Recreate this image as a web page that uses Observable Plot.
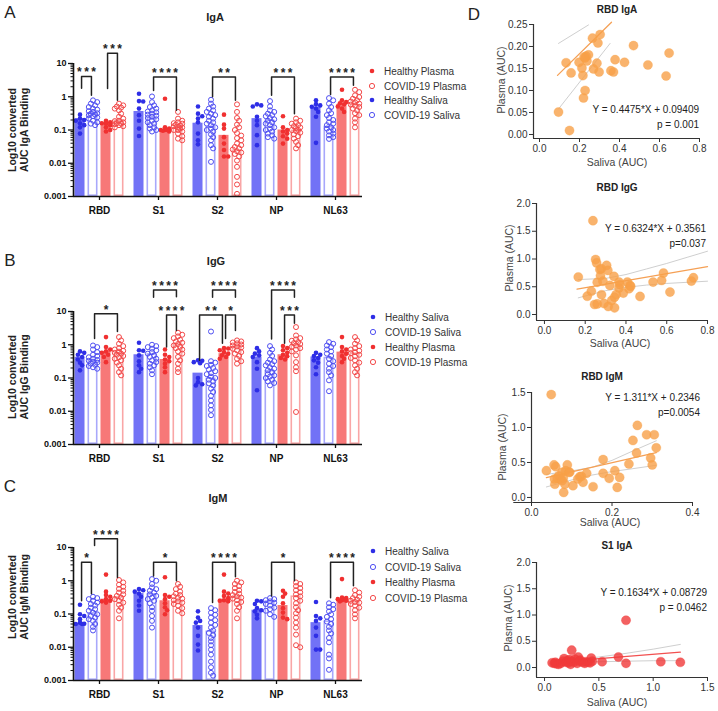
<!DOCTYPE html>
<html><head><meta charset="utf-8">
<script src="https://cdn.jsdelivr.net/npm/d3@7"></script>
<script src="https://cdn.jsdelivr.net/npm/@observablehq/plot@0.6"></script>
<style>
body{margin:0;background:#fff;font-family:"Liberation Sans",Arial,sans-serif;}
#root{position:relative;width:718px;height:711px;overflow:hidden;background:#fff;}
#root svg{position:absolute;overflow:visible;}
</style></head><body><div id="root"></div><script>
// ---------- DATA ----------
const categories = ["RBD","S1","S2","NP","NL63"];
const groupNames = ["Healthy Saliva","COVID-19 Saliva","Healthy Plasma","COVID-19 Plasma"];
const logTicks = [0.001,0.01,0.1,1,10];

// bar heights: rows = HS, CS, HP, CP ; columns = categories
const igaBars = [[0.22,0.36,0.16,0.22,0.49],[0.33,0.24,0.13,0.2,0.13],[0.17,0.1,0.069,0.1,0.59],[0.2,0.12,0.025,0.1,0.59]];
const iggBars = [[0.42,0.5,0.14,0.43,0.43],[0.34,0.54,0.1,0.17,0.42],[0.63,0.36,0.54,0.5,0.6],[0.57,1.07,0.9,1.0,0.57]];
const igmBars = [[0.051,0.41,0.045,0.13,0.055],[0.11,0.41,0.031,0.25,0.062],[0.28,0.25,0.28,0.18,0.28],[0.33,0.25,0.35,0.35,0.25]];

// IgA individual values per category
const igaHS = [[0.29,0.22,0.2,0.19,0.16,0.14,0.12,0.078],[1.23,0.74,0.72,0.44,0.28,0.19,0.11,0.066],[0.51,0.31,0.26,0.22,0.17,0.078,0.049,0.037],[0.59,0.55,0.51,0.25,0.19,0.14,0.07,0.035],[0.78,0.6,0.55,0.5,0.44,0.35,0.25,0.041]];
const igaCS = [[0.78,0.69,0.62,0.55,0.49,0.44,0.41,0.37,0.35,0.32,0.31,0.29,0.28,0.26,0.24,0.22,0.19,0.17,0.155,0.14],
 [1.02,0.69,0.55,0.49,0.44,0.39,0.36,0.34,0.31,0.29,0.27,0.25,0.23,0.21,0.19,0.17,0.155,0.14,0.12,0.11,0.1,0.09],
 [0.81,0.62,0.51,0.44,0.39,0.35,0.31,0.28,0.25,0.22,0.19,0.17,0.155,0.14,0.12,0.11,0.1,0.09,0.074,0.061,0.049,0.035,0.028,0.011],
 [0.74,0.51,0.39,0.35,0.31,0.28,0.26,0.23,0.21,0.19,0.17,0.155,0.14,0.12,0.11,0.1,0.09,0.078,0.069,0.061,0.055],
 [0.91,0.78,0.62,0.49,0.39,0.32,0.28,0.23,0.2,0.17,0.155,0.14,0.12,0.11,0.1,0.09,0.078,0.069,0.061,0.054]];
const igaHP = [[0.19,0.17,0.16,0.155,0.14,0.12,0.1,0.09],[0.87,0.12,0.11,0.1,0.1,0.095,0.09,0.1],[0.29,0.145,0.11,0.061,0.039,0.025,0.016,0.016],[0.26,0.12,0.1,0.09,0.078,0.065,0.055,0.039],[1.62,0.78,0.69,0.64,0.59,0.51,0.44,0.35]];
const igaCP = [[0.62,0.55,0.51,0.47,0.44,0.39,0.31,0.25,0.22,0.19,0.185,0.17,0.16,0.155,0.15,0.14,0.13,0.12],
 [0.35,0.22,0.19,0.17,0.16,0.155,0.145,0.135,0.13,0.12,0.12,0.11,0.1,0.1,0.09,0.078,0.065,0.055,0.049],
 [0.59,0.35,0.23,0.19,0.145,0.12,0.1,0.081,0.068,0.057,0.049,0.039,0.035,0.031,0.028,0.026,0.023,0.021,0.019,0.016,0.012,0.0078,0.0039,0.0023,0.0012],
 [0.22,0.19,0.17,0.155,0.14,0.13,0.12,0.115,0.1,0.1,0.093,0.083,0.074,0.065,0.055,0.044,0.035,0.028],
 [1.62,1.38,1.1,0.98,0.87,0.78,0.72,0.68,0.62,0.58,0.54,0.49,0.44,0.39,0.32,0.28,0.22,0.17,0.12]];

// IgG individual values
const iggHS = [[0.63,0.57,0.5,0.43,0.36,0.29,0.24,0.17],[1.15,0.68,0.66,0.48,0.32,0.24,0.19,0.15],[0.34,0.33,0.3,0.28,0.1,0.075,0.065,0.06],[0.79,0.63,0.54,0.48,0.43,0.3,0.19,0.043],[0.57,0.5,0.46,0.4,0.34,0.29,0.21,0.13]];
const iggCS = [[0.95,0.85,0.72,0.6,0.5,0.46,0.42,0.38,0.35,0.33,0.31,0.29,0.27,0.25,0.23,0.21,0.19],
 [1.0,0.91,0.85,0.76,0.68,0.6,0.54,0.48,0.43,0.38,0.34,0.3,0.27,0.24,0.21,0.17,0.13],
 [2.5,0.32,0.29,0.25,0.23,0.2,0.18,0.16,0.14,0.13,0.11,0.1,0.089,0.079,0.069,0.06,0.048,0.038,0.029,0.021,0.015,0.011,0.0076],
 [0.91,0.72,0.57,0.46,0.36,0.32,0.29,0.26,0.24,0.21,0.19,0.17,0.15,0.13,0.12,0.11,0.1,0.089,0.079,0.071,0.06],
 [1.2,1.07,0.95,0.85,0.72,0.63,0.54,0.46,0.38,0.32,0.27,0.23,0.19,0.15,0.12,0.085,0.04]];
const iggHP = [[1.7,0.85,0.72,0.63,0.57,0.5,0.43,0.3],[0.72,0.5,0.43,0.36,0.32,0.27,0.21,0.15],[0.79,0.77,0.68,0.6,0.54,0.48,0.43,0.38],[0.91,0.79,0.68,0.57,0.5,0.45,0.4,0.36],[1.7,0.85,0.72,0.63,0.54,0.46,0.38,0.3]];
const iggCP = [[1.7,1.35,1.07,0.91,0.79,0.72,0.66,0.62,0.57,0.54,0.5,0.46,0.42,0.38,0.34,0.29,0.24,0.19,0.15,0.12],
 [2.3,2.0,1.78,1.58,1.41,1.26,1.15,1.05,0.95,0.87,0.79,0.72,0.63,0.54,0.43,0.34,0.27,0.19,0.15],
 [1.35,1.26,1.17,1.1,1.02,0.95,0.89,0.83,0.76,0.68,0.6,0.54,0.46,0.38,0.32,0.27],
 [3.4,1.9,1.58,1.45,1.32,1.2,1.12,1.05,0.95,0.87,0.79,0.72,0.63,0.48,0.3,0.21,0.16,0.0095],
 [1.7,1.35,1.07,0.91,0.79,0.72,0.66,0.6,0.56,0.5,0.45,0.4,0.34,0.29,0.24,0.19,0.15,0.12]];

// IgM individual values
const igmHS = [[0.19,0.098,0.087,0.07,0.055,0.051,0.05,0.05],[0.56,0.52,0.47,0.41,0.33,0.25,0.18,0.125],[0.12,0.078,0.062,0.055,0.039,0.022,0.012,0.008],[0.25,0.24,0.2,0.15,0.13,0.12,0.095,0.074],[0.23,0.087,0.074,0.062,0.039,0.022,0.0085,0.0085]];
const igmCS = [[0.33,0.3,0.28,0.25,0.22,0.2,0.18,0.155,0.14,0.125,0.11,0.098,0.087,0.078,0.07,0.062,0.05,0.041,0.032],
 [1.12,1.0,0.8,0.63,0.56,0.5,0.44,0.39,0.35,0.31,0.28,0.25,0.21,0.16,0.125,0.087,0.062,0.039],
 [0.15,0.13,0.11,0.095,0.078,0.065,0.055,0.047,0.039,0.032,0.027,0.023,0.019,0.015,0.0115,0.0085,0.006,0.0037,0.0025,0.0017,0.0014],
 [0.3,0.28,0.26,0.24,0.22,0.2,0.18,0.155,0.14,0.125,0.098,0.082],
 [0.21,0.19,0.16,0.14,0.12,0.098,0.082,0.07,0.059,0.05,0.041,0.032,0.026,0.019,0.014,0.006,0.0046,0.0021]];
const igmHP = [[1.53,0.47,0.37,0.33,0.28,0.25,0.24,0.22],[1.27,0.37,0.33,0.28,0.21,0.16,0.13,0.098],[1.53,0.47,0.41,0.35,0.3,0.26,0.25,0.24],[0.5,0.41,0.33,0.21,0.15,0.11,0.078,0.07],[1.12,0.31,0.3,0.28,0.28,0.26,0.25,0.24]];
const igmCP = [[1.05,0.89,0.76,0.66,0.57,0.5,0.44,0.39,0.35,0.31,0.28,0.25,0.22,0.19,0.155,0.125,0.074],
 [0.8,0.66,0.56,0.47,0.41,0.37,0.34,0.31,0.29,0.26,0.24,0.22,0.2,0.18,0.15,0.125,0.105],
 [1.0,0.89,0.8,0.69,0.6,0.52,0.46,0.41,0.37,0.34,0.31,0.29,0.26,0.23,0.2,0.16,0.125,0.074],
 [0.89,0.8,0.69,0.6,0.52,0.45,0.39,0.34,0.3,0.25,0.21,0.16,0.13,0.105,0.078,0.055,0.039,0.024,0.0115,0.01],
 [0.52,0.44,0.37,0.33,0.3,0.27,0.25,0.23,0.22,0.2,0.18,0.155,0.13,0.098,0.074]];

// significance brackets: [category, group A, group B, bracket top, left leg end, right leg end, label]
const igaSig = [["RBD",0,1,4.07,1.8,1.1,"***"],["RBD",2,3,20.4,1.78,0.78,"***"],["S1",1,3,3.9,1.55,0.39,"****"],["S2",1,3,3.9,1.0,0.78,"**"],["NP",1,3,3.9,1.1,0.31,"***"],["NL63",1,3,3.9,1.17,2.2,"****"]];
const iggSig = [["RBD",1,3,8.5,1.55,2.5,"*"],["S1",1,3,44.7,27,28,"****"],["S1",2,3,7.9,0.85,2.7,"****"],["S2",0,2,7.9,0.34,1.1,"**"],["S2",2,3,7.9,1.55,2.7,"*"],["S2",1,3,44.7,27,27,"****"],["NP",1,3,44.7,1.5,27,"****"],["NP",2,3,7.9,1.1,4.4,"***"]];
const igmSig = [["RBD",0,1,3.6,0.25,0.41,"*"],["RBD",1,3,18.3,11.5,1.26,"****"],["S1",1,3,3.6,1.4,1.0,"*"],["S2",1,3,3.6,0.22,1.32,"****"],["NP",1,3,3.6,0.35,1.0,"*"],["NL63",1,3,3.6,0.31,0.71,"****"]];

// scatter data (panel D)
const rbdIgaSaliva = [0.095,0.15,0.133,0.158,0.198,0.212,0.217,0.22,0.228,0.228,0.233,0.237,0.245,0.265,0.27,0.287,0.292,0.298,0.303,0.357,0.37,0.378,0.425,0.47,0.542,0.633,0.648,0.223];
const rbdIgaPlasma = [0.051,0.009,0.163,0.14,0.164,0.151,0.134,0.083,0.1,0.174,0.178,0.167,0.181,0.219,0.149,0.162,0.208,0.142,0.227,0.145,0.142,0.17,0.164,0.202,0.158,0.133,0.185,0.176];
const rbdIggSaliva = [0.166,0.21,0.23,0.238,0.246,0.251,0.256,0.259,0.259,0.272,0.275,0.279,0.28,0.287,0.292,0.305,0.311,0.313,0.321,0.33,0.341,0.344,0.344,0.352,0.366,0.366,0.37,0.387,0.407,0.415,0.42,0.423,0.469,0.533,0.575,0.584,0.616,0.721,0.731];
const rbdIggPlasma = [0.675,0.33,0.42,1.69,0.18,0.99,0.93,0.19,0.58,0.81,0.7,0.825,0.355,0.6,0.2,0.885,0.795,0.145,0.524,0.253,0.687,0.313,0.12,0.36,0.476,0.584,0.54,0.386,0.584,0.464,0.524,0.506,0.325,0.584,0.614,0.747,0.404,0.602,0.663];
const rbdIgmSaliva = [0.037,0.049,0.056,0.057,0.058,0.06,0.064,0.068,0.072,0.076,0.076,0.079,0.08,0.083,0.085,0.089,0.093,0.095,0.103,0.115,0.12,0.124,0.128,0.137,0.153,0.178,0.178,0.193,0.207,0.213,0.219,0.242,0.252,0.261,0.263,0.286,0.296,0.3,0.305,0.31];
const rbdIgmPlasma = [0.383,1.47,0.465,0.264,0.19,0.44,0.278,0.31,0.264,0.36,0.24,0.278,0.072,0.19,0.383,0.465,0.36,0.36,0.168,0.264,0.297,0.302,0.216,0.345,0.153,0.541,0.345,0.273,0.383,0.144,0.287,0.479,0.815,0.637,1.03,0.896,0.565,0.465,0.896,0.709];
const s1IgaSaliva = [0.07,0.09,0.1,0.11,0.13,0.15,0.17,0.18,0.2,0.21,0.22,0.23,0.24,0.25,0.25,0.27,0.28,0.3,0.31,0.32,0.33,0.35,0.37,0.38,0.4,0.42,0.43,0.44,0.53,0.68,0.75,0.75,1.07,1.25];
const s1IgaPlasma = [0.09,0.08,0.1,0.07,0.06,0.08,0.12,0.17,0.1,0.13,0.09,0.15,0.06,0.33,0.12,0.1,0.16,0.08,0.2,0.12,0.14,0.1,0.08,0.11,0.1,0.09,0.18,0.12,0.11,0.2,0.9,0.08,0.11,0.1];
// fits: slope, intercept, x-range of the drawn line
const fitRbdIga = [0.4475,0.09409,0.09,0.36];
const fitRbdIgg = [0.6324,0.3561,0.16,0.8];
const fitRbdIgm = [1.311,0.2346,0.037,0.31];
const fitS1Iga = [0.1634,0.08729,0.07,1.25];
// confidence band edges [x, y]
const ciRbdIga = [[[0.095,0.207],[0.245,0.249]],[[0.095,0.058],[0.353,0.207]]];
const ciRbdIgg = [[[0.166,0.63],[0.3,0.65],[0.4,0.72],[0.5,0.82],[0.6,0.92],[0.7,1.03],[0.8,1.14]],[[0.166,0.3],[0.3,0.43],[0.4,0.49],[0.5,0.53],[0.6,0.56],[0.8,0.6]]];
const ciRbdIgm = [[[0.037,0.33],[0.1,0.38],[0.15,0.43],[0.2,0.53],[0.25,0.66],[0.31,0.81]],[[0.037,0.15],[0.1,0.25],[0.15,0.32],[0.2,0.37],[0.25,0.41],[0.31,0.46]]];
const ciS1Iga = [[[0.07,0.11],[0.3,0.15],[0.5,0.2],[0.75,0.27],[1.0,0.35],[1.25,0.44]],[[0.07,0.06],[0.3,0.09],[0.5,0.11],[0.75,0.12],[1.0,0.13],[1.25,0.13]]];

// ---------- DRAWING ----------
const root = document.getElementById("root");
const FONT = "Liberation Sans, Arial, sans-serif";
function txt(s, x, y, css, align = "center", rot = false) {
  const d = document.createElement("div");
  d.innerHTML = s;
  const tx = align === "center" ? "-50%" : align === "right" ? "-100%" : "0";
  d.style.cssText = `position:absolute;left:${x}px;top:${y}px;white-space:nowrap;line-height:1.1;text-align:center;font-family:${FONT};transform:translate(${tx},-50%)${rot ? " rotate(-90deg)" : ""};` + css;
  root.appendChild(d);
}
function place(svg, left, top) { svg.style.left = left + "px"; svg.style.top = top + "px"; root.appendChild(svg); }

const fillCol = ["#7272f6", "#ffffff", "#f77878", "#ffffff"];
const edgeCol = ["#7272f6", "#a8a8fb", "#f77878", "#f9a6a6"];
const dotCol = ["#2e2ee6", "#4f4ff2", "#f03030", "#f34848"];

const S = 59 / 13;              // category spacing in bar units
const xDom = [-26 / 13, 263 / 13];
const minors = [];
for (let k = -3; k < 1; k++) for (let m = 2; m <= 9; m++) minors.push(m * Math.pow(10, k));

function spread(vals, pxDec) {
  const order = d3.range(vals.length).sort((a, b) => vals[b] - vals[a]);
  const placed = [], off = [];
  const step = 2.1, steps = [0, 1, -1, 2, -2];
  for (const i of order) {
    const y = Math.log10(vals[i]) * pxDec;
    let best = 0, bestD = -1;
    for (const s of steps) {
      const x = s * step;
      let md = Infinity;
      for (const p of placed) md = Math.min(md, Math.hypot(p.x - x, p.y - y));
      if (md >= 3.4) { best = x; bestD = md; break; }
      if (md > bestD) { bestD = md; best = x; }
    }
    placed.push({x: best, y});
    off[i] = best / 13;
  }
  return off;
}

function barPanel(bars, pts, sig, svgTop, frameTop) {
  const ci = c => categories.indexOf(c);
  const barRows = [];
  bars.forEach((row, g) => row.forEach((v, c) => barRows.push({g, x1: c * S + g - 1.5 - 0.385, x2: c * S + g - 1.5 + 0.385, v})));
  const dotRows = [];
  pts.forEach((grp, g) => grp.forEach((vals, c) => {
    const off = spread(vals, 33.2);
    vals.forEach((v, i) => dotRows.push({g, x: c * S + g - 1.5 + off[i], v}));
  }));
  const lines = [], stars = [];
  sig.forEach(([cat, a, b, top, le, re, lab], i) => {
    const xa = ci(cat) * S + a - 1.5 + 0.12, xb = ci(cat) * S + b - 1.5 - 0.12;
    lines.push({i, x: xa, y: le}, {i, x: xa, y: top}, {i, x: xb, y: top}, {i, x: xb, y: re});
    stars.push({x: (xa + xb) / 2, y: top, t: lab.split("").join("\u2009")});
  });
  const marginTop = frameTop - svgTop;
  const svg = Plot.plot({
    width: 366, height: marginTop + 133 + 26,
    marginLeft: 73, marginRight: 4, marginTop, marginBottom: 26,
    style: {fontFamily: FONT, background: "transparent", color: "#111"},
    x: {domain: xDom, label: null},
    y: {type: "log", domain: [0.001, 10], label: null},
    marks: [
      Plot.rect(barRows.filter(d => d.g % 2 === 0), {x1: "x1", x2: "x2", y1: () => 0.001, y2: "v", fill: d => fillCol[d.g]}),
      Plot.rect(barRows.filter(d => d.g % 2 === 1), {x1: "x1", x2: "x2", y1: () => 0.001, y2: "v", fill: "white", stroke: d => edgeCol[d.g], strokeWidth: 1.6, inset: 0.8}),
      Plot.dot(dotRows.filter(d => d.g % 2 === 0), {x: "x", y: "v", r: 2.3, fill: d => dotCol[d.g], stroke: "none"}),
      Plot.dot(dotRows.filter(d => d.g % 2 === 1), {x: "x", y: "v", r: 2.5, fill: "none", stroke: d => dotCol[d.g], strokeWidth: 1}),
      Plot.line(lines, {x: "x", y: "y", z: "i", stroke: "#222", strokeWidth: 1.5}),
      Plot.text(stars, {x: "x", y: "y", text: "t", dy: -4, fontSize: 12, fontWeight: "bold", fill: "#222"}),
      Plot.axisY({ticks: logTicks, tickFormat: d => String(d), tickSize: 5, tickPadding: 2, fontSize: 9, fontWeight: "bold", label: null, strokeWidth: 1.3}),
      Plot.axisY({ticks: minors, tickFormat: () => "", tickSize: 2.5, label: null}),
      Plot.axisX({ticks: categories.map((c, i) => i * S), tickFormat: d => categories[Math.round(d / S)], tickSize: 4, tickPadding: 6, fontSize: 10, fontWeight: "bold", label: null, strokeWidth: 1.3}),
      Plot.ruleY([0.001], {x1: xDom[0], x2: xDom[1], strokeWidth: 1.6, stroke: "#111"}),
      Plot.ruleX([xDom[0]], {y1: 0.001, y2: 10, strokeWidth: 1.6, stroke: "#111"})
    ]
  });
  place(svg, 0, svgTop);
}

function legend(order, x, y0, step) {
  order.forEach((g, k) => {
    const y = y0 + k * step;
    const filled = g % 2 === 0;
    txt(`<svg width="8" height="8" style="position:static;display:block"><circle cx="4" cy="4" r="${filled ? 2.3 : 2.6}" fill="${filled ? dotCol[g] : "none"}" stroke="${filled ? "none" : dotCol[g]}" stroke-width="1"/></svg>`, x, y, "", "center");
    txt(groupNames[g], x + 12, y, "font-size:10px;color:#333;", "left");
  });
}

// Panel A
barPanel(igaBars, [igaHS, igaCS, igaHP, igaCP], igaSig, 30, 63);
txt("A", 10, 13, "font-size:17px;color:#222;");
txt("IgA", 215, 17, "font-size:11px;font-weight:bold;color:#222;");
txt("Log10 converted<br>AUC IgA Binding", 19, 130, "font-size:10.5px;font-weight:bold;color:#222;", "center", true);
legend([2, 3, 0, 1], 372, 71, 14.7);
// Panel B
barPanel(iggBars, [iggHS, iggCS, iggHP, iggCP], iggSig, 270, 311);
txt("B", 10, 261, "font-size:17px;color:#222;");
txt("IgG", 216, 261, "font-size:11px;font-weight:bold;color:#222;");
txt("Log10 converted<br>AUC IgG Binding", 19, 377, "font-size:10.5px;font-weight:bold;color:#222;", "center", true);
legend([0, 1, 2, 3], 373, 317, 15);
// Panel C
barPanel(igmBars, [igmHS, igmCS, igmHP, igmCP], igmSig, 516, 547);
txt("C", 10, 487, "font-size:17px;color:#222;");
txt("IgM", 218, 498, "font-size:11px;font-weight:bold;color:#222;");
txt("Log10 converted<br>AUC IgM Binding", 19, 597, "font-size:10.5px;font-weight:bold;color:#222;", "center", true);
legend([0, 1, 2, 3], 373, 551, 15.6);

// Panel D scatter plots
function scatter(o) {
  const pts = o.sal.map((s, i) => ({s, p: o.pla[i]}));
  const [m, b, x0, x1] = o.fit;
  const fitLine = [{x: x0, y: m * x0 + b}, {x: x1, y: m * x1 + b}];
  const ci = [];
  o.ci.forEach((edge, k) => edge.forEach(([x, y]) => ci.push({k, x, y})));
  const marginLeft = o.fl - 440, marginTop = o.ft - o.top;
  const svg = Plot.plot({
    width: o.fr + 10 - 440, height: o.fb + 30 - o.top,
    marginLeft, marginRight: 10, marginTop, marginBottom: 30,
    style: {fontFamily: FONT, background: "transparent", color: "#333"},
    x: {domain: o.xd, label: null},
    y: {domain: o.yd, label: null},
    marks: [
      Plot.line(ci, {x: "x", y: "y", z: "k", stroke: "#cfcfcf", strokeWidth: 1}),
      Plot.line(fitLine, {x: "x", y: "y", stroke: o.line, strokeWidth: 1.3}),
      Plot.dot(pts, {x: "s", y: "p", r: 4.6, fill: o.color, fillOpacity: 0.8, stroke: o.color, strokeOpacity: 0.5, strokeWidth: 0.6}),
      Plot.axisX({ticks: o.xt, tickFormat: d3.format(".1f"), tickSize: 4, tickPadding: 2, fontSize: 10, label: null}),
      Plot.axisY({ticks: o.yt, tickFormat: d3.format(o.yf), tickSize: 4, tickPadding: 2, fontSize: 10, label: null}),
      Plot.ruleY([o.yd[0]], {x1: o.xl, x2: o.xd[1], stroke: "#333", strokeWidth: 1.2}),
      Plot.ruleX([o.yx], {y1: o.yd[0], y2: o.yd[1], stroke: "#333", strokeWidth: 1.2})
    ]
  });
  place(svg, 440, o.top);
  txt(o.title, o.tx, o.ty, "font-size:10px;font-weight:bold;color:#222;");
  txt("Plasma (AUC)", o.ylx, o.yly, "font-size:10.5px;color:#444;", "center", true);
  txt("Saliva (AUC)", o.xlx, o.xly, "font-size:10.5px;color:#444;");
  txt(o.eq, o.er, o.ey, "font-size:10px;color:#222;", "right");
  txt(o.p, o.er, o.ey + 14.5, "font-size:10px;color:#222;", "right");
}
const orange = "#f7a048";
scatter({sal: rbdIgaSaliva, pla: rbdIgaPlasma, fit: fitRbdIga, ci: ciRbdIga, color: orange, line: "#f5a055",
  top: 0, fl: 533, fr: 699, ft: 24, fb: 138, xd: [-0.03, 0.8], yd: [-0.0091, 0.25], xl: -0.03, yx: -0.03,
  xt: [0, 0.2, 0.4, 0.6, 0.8], yt: [0, 0.05, 0.1, 0.15, 0.2, 0.25], yf: ".2f",
  title: "RBD IgA", tx: 617, ty: 9, ylx: 502, yly: 80, xlx: 617, xly: 163,
  eq: "Y = 0.4475*X + 0.09409", p: "p = 0.001", er: 699, ey: 109});
scatter({sal: rbdIggSaliva, pla: rbdIggPlasma, fit: fitRbdIgg, ci: ciRbdIgg, color: orange, line: "#f5a055",
  top: 180, fl: 536, fr: 707, ft: 203, fb: 320, xd: [-0.039, 0.8], yd: [-0.108, 2], xl: -0.039, yx: -0.039,
  xt: [0, 0.2, 0.4, 0.6, 0.8], yt: [0, 0.5, 1, 1.5, 2], yf: ".1f",
  title: "RBD IgG", tx: 617, ty: 187, ylx: 510, yly: 258, xlx: 620, xly: 344,
  eq: "Y = 0.6324*X + 0.3561", p: "p=0.037", er: 706, ey: 228});
scatter({sal: rbdIgmSaliva, pla: rbdIgmPlasma, fit: fitRbdIgm, ci: ciRbdIgm, color: orange, line: "#f5a055",
  top: 370, fl: 531, fr: 692, ft: 392, fb: 502, xd: [0, 0.4], yd: [-0.072, 1.5], xl: -0.044, yx: 0,
  xt: [0, 0.2, 0.4], yt: [0, 0.5, 1, 1.5], yf: ".1f",
  title: "RBD IgM", tx: 602, ty: 376, ylx: 503, yly: 447, xlx: 610, xly: 523,
  eq: "Y = 1.311*X + 0.2346", p: "p=0.0054", er: 700, ey: 397});
scatter({sal: s1IgaSaliva, pla: s1IgaPlasma, fit: fitS1Iga, ci: ciS1Iga, color: "#f03a3a", line: "#f25050",
  top: 540, fl: 536, fr: 707, ft: 562, fb: 677, xd: [-0.074, 1.5], yd: [-0.19, 2], xl: -0.074, yx: -0.074,
  xt: [0, 0.5, 1, 1.5], yt: [0, 0.5, 1, 1.5, 2], yf: ".1f",
  title: "S1 IgA", tx: 617, ty: 545, ylx: 509, yly: 618, xlx: 617, xly: 703,
  eq: "Y = 0.1634*X + 0.08729", p: "p = 0.0462", er: 707, ey: 592});
txt("D", 474, 15, "font-size:17px;color:#222;");
</script></body></html>
